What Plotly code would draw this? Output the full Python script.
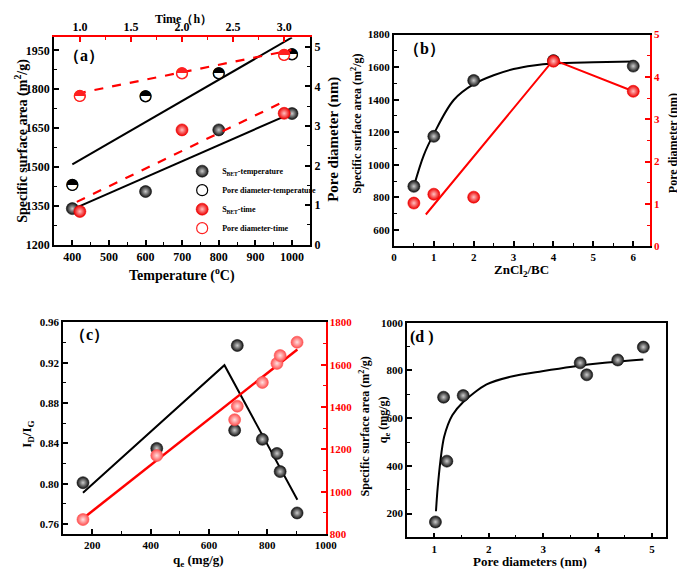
import plotly.graph_objects as go

FONT = "Liberation Serif"
W, H = 685, 569

# ---------------- Panel (a) data ----------------
temp_c = [400, 600, 800, 1000]
sbet_temp = [1339, 1405, 1643, 1706]
pore_temp = [1.51, 3.75, 4.33, 4.81]
time_h = [1.0, 2.0, 3.0]
sbet_time = [1328, 1643, 1707]
pore_time = [3.76, 4.33, 4.80]
fit_pore_temp_x = [400, 1000]
fit_pore_temp_y = [2.03, 5.24]
fit_sbet_temp_x = [400, 995]
fit_sbet_temp_y = [1336, 1705]
fit_sbet_time_x = [0.97, 2.98]
fit_sbet_time_y = [1365, 1749]
fit_pore_time_x = [0.97, 3.07]
fit_pore_time_y = [3.82, 4.92]
a_left_ticks = [1200, 1350, 1500, 1650, 1800, 1950]

# ---------------- Panel (b) data ----------------
ratio = [0.5, 1, 2, 4, 6]
sbet_ratio = [868, 1175, 1518, 1640, 1606]
pore_ratio = [1.02, 1.23, 1.16, 4.37, 3.66]
curve_b_x = [0.5, 0.75, 1.0, 1.5, 2.0, 2.5, 3.0, 3.5, 4.0, 5.0, 6.0]
curve_b_y = [868, 1060, 1190, 1398, 1495, 1550, 1588, 1610, 1622, 1630, 1635]
line_b_x = [0.8, 4.0, 6.0]
line_b_y = [0.75, 4.40, 3.66]

# ---------------- Panel (c) data ----------------
qe_c = [168, 421, 688, 697, 783, 833, 844, 902]
id_ig = [0.801, 0.835, 0.853, 0.937, 0.844, 0.830, 0.812, 0.771]
ssa_c = [869, 1171, 1340, 1404, 1516, 1606, 1643, 1706]
line_c_black_x = [168, 653, 903]
line_c_black_y = [0.791, 0.9175, 0.784]
line_c_red_x = [168, 903]
line_c_red_y = [874, 1672]
c_left_ticks = [0.76, 0.80, 0.84, 0.88, 0.92, 0.96]

# ---------------- Panel (d) data ----------------
pore_d = [1.02, 1.17, 1.23, 1.53, 3.68, 3.80, 4.37, 4.84]
qe_d = [165, 688, 420, 695, 832, 782, 844, 898]
curve_d_x = [1.03, 1.04, 1.06, 1.11, 1.18, 1.33, 1.53, 1.96, 2.44, 2.98, 3.53, 4.13, 4.84]
curve_d_y = [210, 245, 305, 418, 522, 612, 668, 742, 776, 797, 816, 832, 846]

HALF = "\u25D3"  # circle with upper half black


def ball(color, hl, size=12):
    return dict(symbol="circle", size=size, color=color,
                gradient=dict(type="radial", color=hl),
                line=dict(width=0.6, color=color))


def half_trace(x, y, xa, ya, color, name):
    n = len(x)
    return go.Scatter(x=x, y=y, xaxis=xa, yaxis=ya, mode="markers+text", name=name,
                      text=[HALF] * n, textposition="middle center",
                      textfont=dict(family="DejaVu Sans", size=15, color=color),
                      marker=dict(symbol="circle", size=11, color="white",
                                  line=dict(width=1.2, color=color)))


fig = go.Figure()

# ---- (a) lines
fig.add_trace(go.Scatter(x=fit_pore_temp_x, y=fit_pore_temp_y, xaxis="x", yaxis="y2",
                         mode="lines", line=dict(color="black", width=2), showlegend=False))
fig.add_trace(go.Scatter(x=fit_sbet_temp_x, y=fit_sbet_temp_y, xaxis="x", yaxis="y",
                         mode="lines", line=dict(color="black", width=2), showlegend=False))
fig.add_trace(go.Scatter(x=fit_sbet_time_x, y=fit_sbet_time_y, xaxis="x2", yaxis="y",
                         mode="lines", line=dict(color="red", width=2.2, dash="dash"), showlegend=False))
fig.add_trace(go.Scatter(x=fit_pore_time_x, y=fit_pore_time_y, xaxis="x2", yaxis="y2",
                         mode="lines", line=dict(color="red", width=2.2, dash="dash"), showlegend=False))
# ---- (a) markers
fig.add_trace(go.Scatter(x=temp_c, y=sbet_temp, xaxis="x", yaxis="y", mode="markers",
                         name="S<sub>BET</sub>-temperature", marker=ball("#111111", "#cccccc")))
fig.add_trace(half_trace(temp_c, pore_temp, "x", "y2", "black", "Pore diameter-temperature"))
fig.add_trace(go.Scatter(x=time_h, y=sbet_time, xaxis="x2", yaxis="y", mode="markers",
                         name="S<sub>BET</sub>-time", marker=ball("#ee0000", "#ffc0c0")))
fig.add_trace(half_trace(time_h, pore_time, "x2", "y2", "#ff2020", "Pore diameter-time"))

# ---- (b)
fig.add_trace(go.Scatter(x=curve_b_x, y=curve_b_y, xaxis="x3", yaxis="y3", mode="lines",
                         line=dict(color="black", width=2, shape="spline", smoothing=1.0), showlegend=False))
fig.add_trace(go.Scatter(x=line_b_x, y=line_b_y, xaxis="x3", yaxis="y4", mode="lines",
                         line=dict(color="red", width=2), showlegend=False))
fig.add_trace(go.Scatter(x=ratio, y=sbet_ratio, xaxis="x3", yaxis="y3", mode="markers",
                         marker=ball("#111111", "#cccccc"), showlegend=False))
fig.add_trace(go.Scatter(x=ratio, y=pore_ratio, xaxis="x3", yaxis="y4", mode="markers",
                         marker=ball("#ee0000", "#ffc0c0"), showlegend=False))

# ---- (c)
fig.add_trace(go.Scatter(x=line_c_black_x, y=line_c_black_y, xaxis="x4", yaxis="y5", mode="lines",
                         line=dict(color="black", width=2), showlegend=False))
fig.add_trace(go.Scatter(x=line_c_red_x, y=line_c_red_y, xaxis="x4", yaxis="y6", mode="lines",
                         line=dict(color="red", width=2.5), showlegend=False))
fig.add_trace(go.Scatter(x=qe_c, y=id_ig, xaxis="x4", yaxis="y5", mode="markers",
                         marker=ball("#111111", "#cccccc"), showlegend=False))
fig.add_trace(go.Scatter(x=qe_c, y=ssa_c, xaxis="x4", yaxis="y6", mode="markers",
                         marker=ball("#ff5050", "#ffe0e0"), showlegend=False))

# ---- (d)
fig.add_trace(go.Scatter(x=curve_d_x, y=curve_d_y, xaxis="x5", yaxis="y7", mode="lines",
                         line=dict(color="black", width=2, shape="spline", smoothing=0.8), showlegend=False))
fig.add_trace(go.Scatter(x=pore_d, y=qe_d, xaxis="x5", yaxis="y7", mode="markers",
                         marker=ball("#111111", "#cccccc"), showlegend=False))


def ax(color="black", lab_color="black", size=11, dtick=None, minor=None, **kw):
    d = dict(showline=True, linewidth=1.8, linecolor=color, ticks="inside", ticklen=5,
             tickwidth=1.5, tickcolor=color, showgrid=False, zeroline=False,
             tickfont=dict(family=FONT, size=size, color=lab_color, weight="bold"))
    if dtick is not None:
        d["dtick"] = dtick
    if minor is not None:
        d["minor"] = dict(ticks="inside", ticklen=3, tickwidth=1.2, tickcolor=color,
                          dtick=minor, showgrid=False)
    d.update(kw)
    return d


def dx(a, b):
    return [a / W, b / W]


def dy(top, bottom):
    return [1 - bottom / H, 1 - top / H]


layout = dict(
    width=W, height=H, margin=dict(l=0, r=0, t=0, b=0),
    paper_bgcolor="white", plot_bgcolor="rgba(0,0,0,0)",
    font=dict(family=FONT, color="black", weight="bold"),
    # (a)
    xaxis=ax(size=12, dtick=100, minor=50, domain=dx(44, 306), anchor="y", range=[350, 1050]),
    yaxis=ax(size=12, minor=75, domain=dy(24, 236), anchor="x", range=[1200, 2000],
             tickvals=a_left_ticks),
    yaxis2=ax(size=12, dtick=1, minor=0.5, overlaying="y", side="right", anchor="x",
              range=[0, 5.24]),
    xaxis2=ax(color="red", size=12, dtick=0.5, minor=0.25, overlaying="x", side="top",
              anchor="y", range=[0.747, 3.256], tickformat=".1f"),
    # (b)
    xaxis3=ax(dtick=1, minor=0.5, domain=dx(391.5, 653.3), anchor="y3", range=[0, 6.42],
              mirror=True),
    yaxis3=ax(dtick=200, minor=100, domain=dy(21, 237.7), anchor="x3", range=[500, 1800]),
    yaxis4=ax(color="red", lab_color="red", dtick=1, minor=0.5, overlaying="y3", side="right",
              anchor="x3", range=[0, 5]),
    # (c)
    xaxis4=ax(dtick=200, minor=100, domain=dx(53.3, 321.7), anchor="y5", range=[100, 1000],
              mirror=True),
    yaxis5=ax(minor=0.02, domain=dy(315.5, 532.3), anchor="x4", range=[0.75, 0.96],
              tickvals=c_left_ticks, tickformat=".2f"),
    yaxis6=ax(color="red", lab_color="red", dtick=200, minor=100, overlaying="y5", side="right",
              anchor="x4", range=[800, 1800]),
    # (d)
    xaxis5=ax(dtick=1, minor=0.5, domain=dx(405, 669.3), anchor="y7", range=[0.5, 5.25],
              mirror=True),
    yaxis7=ax(dtick=200, minor=100, domain=dy(316, 535.7), anchor="x5", range=[100, 1000],
              mirror=True),
    legend=dict(x=175 / W, y=1 - 146 / H, xanchor="left", yanchor="top",
                bgcolor="rgba(0,0,0,0)", font=dict(family=FONT, size=8, color="black"),
                itemwidth=30, tracegroupgap=0),
    showlegend=True,
)
fig.update_layout(**layout)

annots = []


def title(text, xpx, ypx, size=13, angle=0):
    annots.append(dict(text=text, x=xpx / W, y=1 - ypx / H, xref="paper", yref="paper",
                       showarrow=False, textangle=angle, xanchor="center", yanchor="middle",
                       font=dict(family=FONT, size=size, color="black", weight="bold")))


# axis titles
title("Specific surface area (m<sup>2</sup>/g)", 10, 130, 14, -90)
title("Pore diameter (nm)", 329, 128, 15, -90)
title("Temperature (<sup>o</sup>C)", 175, 267, 14)
title("Time（h）", 176, 5, 12)
title("Specific surface area (m<sup>2</sup>/g)", 353, 112, 12, -90)
title("Pore diameter (nm)", 677, 132, 12, -90)
title("ZnCl<sub>2</sub>/BC", 522, 263, 13)
title("I<sub>D</sub>/I<sub>G</sub>", 17, 430, 13, -90)
title("q<sub>e</sub> (mg/g)", 192, 559, 13)
title("Specific surface area (m<sup>2</sup>/g)", 361, 422, 12, -90)
title("q<sub>e</sub> (mg/g)", 381, 415, 12, -90)
title("Pore diameters (nm)", 531, 560, 13)


def plabel(text, xref, yref, xf, yf):
    annots.append(dict(text=text, x=xf, y=yf, xref=xref, yref=yref, showarrow=False,
                       xanchor="left", yanchor="middle",
                       font=dict(family=FONT, size=16, color="black", weight="bold")))


plabel("（a）", "x domain", "y domain", 0.03, 0.91)
plabel("（b）", "x3 domain", "y3 domain", 0.03, 0.93)
plabel("（c）", "x4 domain", "y5 domain", 0.02, 0.94)
plabel("(d )", "x5 domain", "y7 domain", 0.005, 0.936)

fig.update_layout(annotations=annots)
fig.write_html("out.html")
